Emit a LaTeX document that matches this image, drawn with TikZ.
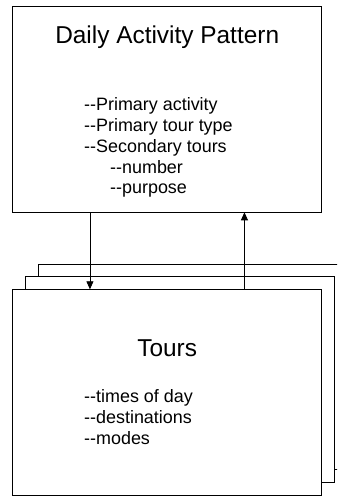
\documentclass[tikz,border=0pt]{standalone}
\usepackage{fontspec}
\setmainfont{Liberation Sans}
\usetikzlibrary{positioning,calc,arrows.meta}
\newcommand\listdash{-\kern0pt-}
\begin{document}
\begin{tikzpicture}[x=1bp,y=-1bp,
    box/.style={draw,fill=white,line width=0.8bp,minimum width=309bp,minimum height=205.6bp,inner sep=0pt,outer sep=0pt},
    title/.style={font=\fontsize{24.5}{29}\selectfont,anchor=base,inner sep=0pt},
    items/.style={font=\fontsize{18}{21}\selectfont,align=left,anchor=base west,inner sep=0pt},
    link/.style={line width=0.8bp,-{Triangle[length=8bp,width=7bp]}}]
  \clip (0,0) rectangle (337,496);
  \node[box] (dap) at (167.2,109.5) {};
  \node[box,below=77bp of dap,xshift=25.4bp,yshift=25.4bp] (tours3) {};
  \node[box,below=77bp of dap,xshift=12.7bp,yshift=12.7bp] (tours2) {};
  \node[box,below=77bp of dap] (tours) {};
  \node[title] (daptitle) at ([yshift=-37.3bp]dap.north) {Daily Activity Pattern};
  \node[items] (dapitems) at (84,194) {\listdash Primary activity\\\listdash Primary tour type\\\listdash Secondary tours\\\hspace*{26bp}\listdash number\\\hspace*{26bp}\listdash purpose};
  \node[title] (tourstitle) at ([yshift=-67.4bp]tours.north) {Tours};
  \node[items] (toursitems) at (84,444) {\listdash times of day\\\listdash destinations\\\listdash modes};
  \coordinate (down) at ($(dap.south west)!0.25!(dap.south east)$);
  \coordinate (up) at ($(dap.south west)!0.75!(dap.south east)$);
  \draw[link] (down) -- (down |- tours.north);
  \draw[link] (up |- tours.north) -- (up);
\end{tikzpicture}
\end{document}
